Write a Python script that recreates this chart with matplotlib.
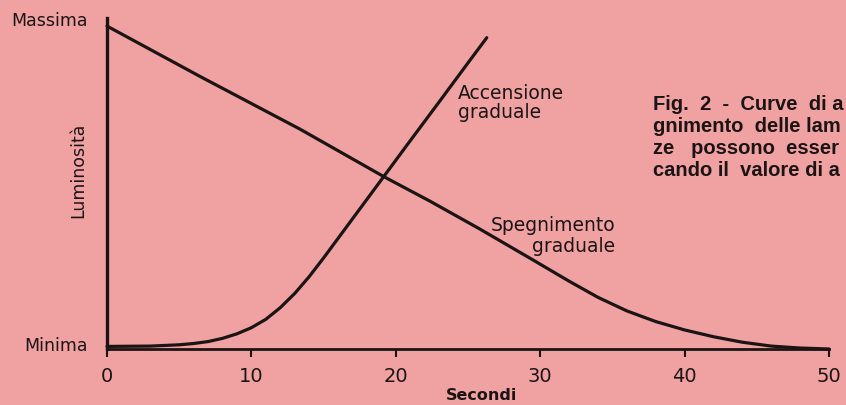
import matplotlib
matplotlib.use("Agg")
import matplotlib.pyplot as plt

# tempo (secondi) e luminosità relativa (0 = minima, 1 = massima)
t_accensione = [0, 3, 5, 6, 7, 8, 9, 10, 11, 12, 13, 14, 15, 17, 19, 21, 23, 25, 26.3]
lum_accensione = [0.008, 0.009, 0.013, 0.017, 0.023, 0.033, 0.047, 0.066, 0.092, 0.128, 0.172,
                  0.224, 0.282, 0.403, 0.524, 0.645, 0.765, 0.886, 0.964]

t_spegnimento = [0, 6.4, 13.4, 19.2, 22.4, 25.8, 29.3, 32, 34, 36, 38, 40, 42, 44, 46, 48, 50]
lum_spegnimento = [1.0, 0.845, 0.68, 0.533, 0.457, 0.372, 0.281, 0.21, 0.16, 0.118, 0.085,
                   0.059, 0.038, 0.021, 0.009, 0.003, 0.0]

x_ticks = [0, 10, 20, 30, 40, 50]
x_labels = ["0", "10", "20", "30", "40", "50"]
y_ticks = [0.02, 1.025]
y_labels = ["Minima", "Massima"]

didascalia = ["Fig.  2  -  Curve  di a", "gnimento  delle lam", "ze   possono  esser", "cando il  valore di a"]

bg = "#f0a2a2"
ink = "#1c1414"
plt.rcParams["font.family"] = ["DejaVu Sans"]

fig = plt.figure(figsize=(8.46, 4.06), dpi=100, facecolor=bg)
ax = fig.add_axes([107 / 846, (406 - 350) / 406, (829 - 107) / 846, (350 - 19) / 406])
ax.set_facecolor(bg)

ax.plot(t_accensione, lum_accensione, color=ink, lw=2.3, solid_joinstyle="round",
        solid_capstyle="round", clip_on=False, zorder=3)
ax.plot(t_spegnimento, lum_spegnimento, color=ink, lw=2.3, solid_joinstyle="round",
        solid_capstyle="round", clip_on=False, zorder=3)

ax.set_xlim(0, 50)
ax.set_ylim(0, 1.025)
for s in ["top", "right"]:
    ax.spines[s].set_visible(False)
ax.spines["left"].set_linewidth(2.4)
ax.spines["bottom"].set_linewidth(2.0)
ax.spines["left"].set_color(ink)
ax.spines["bottom"].set_color(ink)

ax.set_xticks(x_ticks)
ax.set_xticklabels(x_labels, fontsize=14)
ax.tick_params(axis="x", direction="out", length=6, width=1.5, colors=ink, pad=6)

# etichette Minima/Massima senza tacca, tacca solo in cima all'asse
ax.set_yticks(y_ticks)
ax.set_yticklabels(y_labels, fontsize=12.5)
ax.tick_params(axis="y", which="major", length=0, colors=ink, pad=14)
ax.set_yticks([1.025], minor=True)
ax.tick_params(axis="y", which="minor", direction="out", length=8, width=1.6, color=ink)

ax.set_xlabel("Secondi", fontsize=11.5, fontweight="bold", color=ink, va="top")
ax.xaxis.set_label_coords(0.519, -0.115)
ax.set_ylabel("Luminosità", fontsize=12.5, color=ink)
ax.yaxis.set_label_coords(-0.028, 0.544)

ax.text(24.3, 0.765, "Accensione\ngraduale", fontsize=13.5, color=ink, va="center", ha="left",
        linespacing=1.05)
ax.text(35.2, 0.353, "Spegnimento\ngraduale", fontsize=13.5, color=ink, va="center", ha="right",
        linespacing=1.1, multialignment="right")

for i, riga in enumerate(didascalia):
    fig.text(653 / 846, 1 - (110 + 22 * i) / 406, riga, fontsize=14.5, fontweight="bold",
             family="Liberation Sans", color=ink, va="baseline", ha="left")

fig.savefig("out.png", dpi=100, facecolor=bg)
